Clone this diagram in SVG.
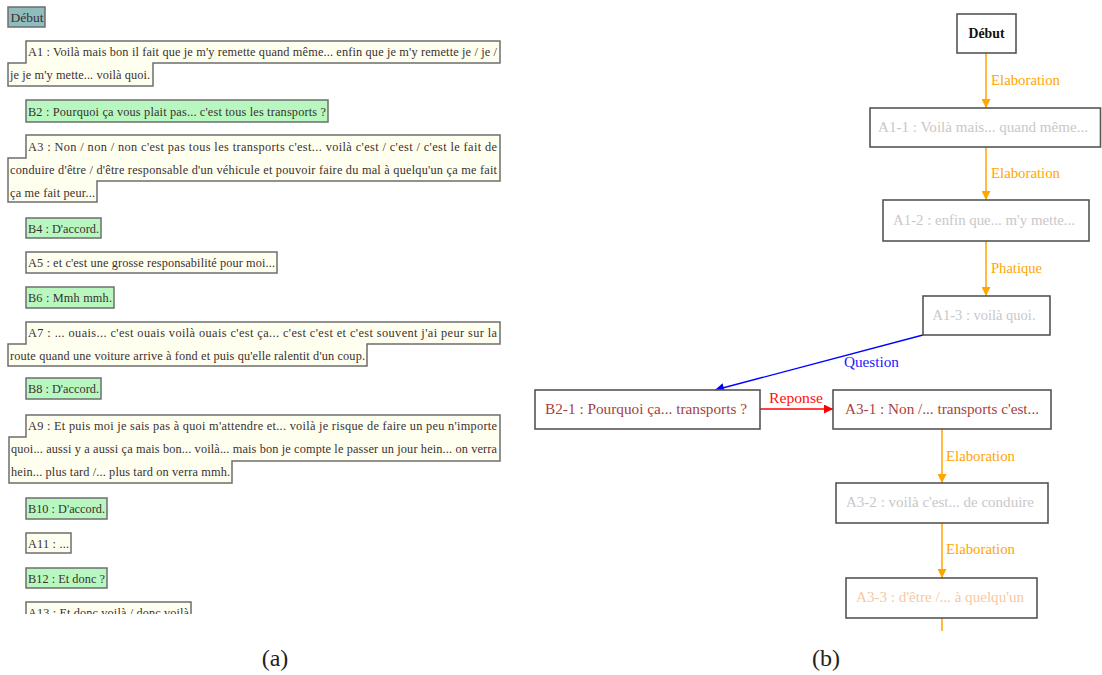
<svg xmlns="http://www.w3.org/2000/svg" width="1102" height="675" viewBox="0 0 1102 675">
<style>
  .lt { font-family: "Liberation Serif", "Times New Roman", serif; font-size: 12.3px; fill: #3a3030; }
  .boxA { fill: #fffff0; stroke: #6e6e6e; stroke-width: 1.5; }
  .boxB { fill: #b8f8c0; stroke: #6e6e6e; stroke-width: 1.5; }
  .boxD { fill: #8fbdbd; stroke: #6e6e6e; stroke-width: 1.5; }
  .rb { fill: #ffffff; stroke: #555555; stroke-width: 1.6; }
  .rt { font-family: "Liberation Serif", "Times New Roman", serif; font-size: 14px; text-anchor: middle; }
  .gray { fill: #c8c8c8; }
  .red { fill: #a84040; }
  .peach { fill: #f6c8a2; }
  .el { font-family: "Liberation Serif", "Times New Roman", serif; font-size: 14px; }
  .orange { stroke: #ffa500; stroke-width: 1.5; fill: none; }
  .cap { font-family: "Liberation Serif", "Times New Roman", serif; font-size: 24px; fill: #222; text-anchor: middle; }
</style>
<defs>
  <marker id="ao" viewBox="0 0 10 10" refX="10" refY="5" markerWidth="10" markerHeight="9" markerUnits="userSpaceOnUse" orient="auto"><path d="M0,0 L10,5 L0,10 z" fill="#ffa500"/></marker>
  <marker id="ab" viewBox="0 0 10 10" refX="10" refY="5" markerWidth="11" markerHeight="9" markerUnits="userSpaceOnUse" orient="auto"><path d="M0,0 L10,5 L0,10 z" fill="#0000ff"/></marker>
  <marker id="ar" viewBox="0 0 10 10" refX="10" refY="5" markerWidth="11" markerHeight="9" markerUnits="userSpaceOnUse" orient="auto"><path d="M0,0 L10,5 L0,10 z" fill="#ff0000"/></marker>
  <clipPath id="clipA13"><rect x="0" y="598" width="510" height="16"/></clipPath>
</defs>
<rect x="0" y="0" width="1102" height="675" fill="#ffffff"/>

<!-- Panel (a) -->
<g id="a-debut">
  <rect class="boxD" x="8" y="7" width="37" height="20"/>
  <text class="lt" x="10.5" y="22" textLength="33" lengthAdjust="spacingAndGlyphs">Début</text>
</g>
<g id="a-A1">
  <polygon class="boxA" points="26,41 500,41 500,63 153,63 153,86 8,86 8,63 26,63"/>
  <text class="lt" x="28" y="56" textLength="469" lengthAdjust="spacing">A1 : Voilà mais bon il fait que je m'y remette quand même... enfin que je m'y remette je / je /</text>
  <text class="lt" x="10" y="79" textLength="140" lengthAdjust="spacing">je je m'y mette... voilà quoi.</text>
</g>
<g id="a-B2">
  <rect class="boxB" x="26" y="100" width="302" height="22"/>
  <text class="lt" x="28" y="116" textLength="298" lengthAdjust="spacing">B2 : Pourquoi ça vous plait pas... c'est tous les transports ?</text>
</g>
<g id="a-A3">
  <polygon class="boxA" points="26,135 500,135 500,181 97,181 97,202 8,202 8,158 26,158"/>
  <text class="lt" x="28" y="151" textLength="469" lengthAdjust="spacing">A3 : Non / non / non c'est pas tous les transports c'est... voilà c'est / c'est / c'est le fait de</text>
  <text class="lt" x="10" y="174" textLength="487" lengthAdjust="spacing">conduire d'être / d'être responsable d'un véhicule et pouvoir faire du mal à quelqu'un ça me fait</text>
  <text class="lt" x="10" y="197" textLength="85" lengthAdjust="spacing">ça me fait peur...</text>
</g>
<g id="a-B4">
  <rect class="boxB" x="26" y="218" width="75" height="20"/>
  <text class="lt" x="28" y="233" textLength="71" lengthAdjust="spacing">B4 : D'accord.</text>
</g>
<g id="a-A5">
  <rect class="boxA" x="26" y="252" width="251" height="21"/>
  <text class="lt" x="28" y="267" textLength="247" lengthAdjust="spacing">A5 : et c'est une grosse responsabilité pour moi...</text>
</g>
<g id="a-B6">
  <rect class="boxB" x="26" y="287" width="88" height="21"/>
  <text class="lt" x="28" y="302" textLength="84" lengthAdjust="spacing">B6 : Mmh mmh.</text>
</g>
<g id="a-A7">
  <polygon class="boxA" points="26,322 500,322 500,344 367,344 367,366 8,366 8,344 26,344"/>
  <text class="lt" x="28" y="337" textLength="469" lengthAdjust="spacing">A7 : ... ouais... c'est ouais voilà ouais c'est ça... c'est  c'est et c'est souvent j'ai peur sur la</text>
  <text class="lt" x="10" y="360" textLength="355" lengthAdjust="spacing">route quand une voiture arrive à fond et puis qu'elle ralentit d'un coup.</text>
</g>
<g id="a-B8">
  <rect class="boxB" x="26" y="378" width="75" height="21"/>
  <text class="lt" x="28" y="393" textLength="71" lengthAdjust="spacing">B8 : D'accord.</text>
</g>
<g id="a-A9">
  <polygon class="boxA" points="26,415 500,415 500,461 232,461 232,483 9,483 9,437 26,437"/>
  <text class="lt" x="28" y="430" textLength="469" lengthAdjust="spacing">A9 : Et puis moi je sais pas à quoi m'attendre et... voilà je risque de faire un peu n'importe</text>
  <text class="lt" x="11" y="453" textLength="486" lengthAdjust="spacing">quoi... aussi y a aussi ça mais bon... voilà... mais bon je compte le passer un jour hein... on verra</text>
  <text class="lt" x="11" y="476" textLength="219" lengthAdjust="spacing">hein... plus tard /... plus tard on verra mmh.</text>
</g>
<g id="a-B10">
  <rect class="boxB" x="26" y="498" width="81" height="21"/>
  <text class="lt" x="28" y="513" textLength="77" lengthAdjust="spacing">B10 : D'accord.</text>
</g>
<g id="a-A11">
  <rect class="boxA" x="26" y="533" width="45" height="20"/>
  <text class="lt" x="28" y="548" textLength="41" lengthAdjust="spacing">A11 : ...</text>
</g>
<g id="a-B12">
  <rect class="boxB" x="26" y="568" width="81" height="20"/>
  <text class="lt" x="28" y="583" textLength="77" lengthAdjust="spacing">B12 : Et donc ?</text>
</g>
<g id="a-A13">
  <rect x="26" y="602" width="165" height="12" fill="#fffff0"/>
  <polyline points="26,614 26,602 191,602 191,614" fill="none" stroke="#6e6e6e" stroke-width="1.5"/>
  <text class="lt" x="28" y="617" textLength="161" lengthAdjust="spacing" clip-path="url(#clipA13)">A13 : Et donc voilà / donc voilà</text>
</g>
<text class="cap" x="275" y="666">(a)</text>

<!-- Panel (b) connectors -->
<g id="connectors">
  <line class="orange" x1="986" y1="53" x2="986" y2="108" marker-end="url(#ao)"/>
  <line class="orange" x1="986" y1="147" x2="986" y2="200" marker-end="url(#ao)"/>
  <line class="orange" x1="986" y1="241" x2="986" y2="296" marker-end="url(#ao)"/>
  <line x1="923" y1="335" x2="715" y2="390" stroke="#0000ff" stroke-width="1.3" marker-end="url(#ab)"/>
  <line x1="760" y1="409" x2="833" y2="409" stroke="#ff0000" stroke-width="1.3" marker-end="url(#ar)"/>
  <line class="orange" x1="942" y1="429" x2="942" y2="483" marker-end="url(#ao)"/>
  <line class="orange" x1="942" y1="523" x2="942" y2="578" marker-end="url(#ao)"/>
  <line class="orange" x1="942" y1="618" x2="942" y2="631"/>
  <text class="el" x="991" y="85" fill="#ffa500" textLength="69" lengthAdjust="spacingAndGlyphs">Elaboration</text>
  <text class="el" x="991" y="178" fill="#ffa500" textLength="69" lengthAdjust="spacingAndGlyphs">Elaboration</text>
  <text class="el" x="991" y="273" fill="#ffa500" textLength="51" lengthAdjust="spacingAndGlyphs">Phatique</text>
  <text class="el" x="844" y="367" fill="#2020ff" textLength="55" lengthAdjust="spacingAndGlyphs">Question</text>
  <text class="el" x="769" y="403" fill="#ff1010" textLength="54" lengthAdjust="spacingAndGlyphs">Reponse</text>
  <text class="el" x="946" y="461" fill="#ffa500" textLength="69" lengthAdjust="spacingAndGlyphs">Elaboration</text>
  <text class="el" x="946" y="554" fill="#ffa500" textLength="69" lengthAdjust="spacingAndGlyphs">Elaboration</text>
</g>

<!-- Panel (b) nodes -->
<g id="b-debut">
  <rect class="rb" x="957" y="14" width="59" height="39"/>
  <text class="rt" x="986.5" y="38" font-weight="bold" fill="#111" textLength="36" lengthAdjust="spacingAndGlyphs">Début</text>
</g>
<g id="b-A1-1">
  <rect class="rb" x="870" y="108" width="230.5" height="39"/>
  <text class="rt gray" x="983" y="132" textLength="210" lengthAdjust="spacingAndGlyphs">A1-1 : Voilà mais... quand même...</text>
</g>
<g id="b-A1-2">
  <rect class="rb" x="883" y="200" width="206" height="41"/>
  <text class="rt gray" x="984" y="225" textLength="182" lengthAdjust="spacingAndGlyphs">A1-2 : enfin que... m'y mette...</text>
</g>
<g id="b-A1-3">
  <rect class="rb" x="923" y="296" width="127" height="39"/>
  <text class="rt gray" x="984" y="320" textLength="103" lengthAdjust="spacingAndGlyphs">A1-3 : voilà quoi.</text>
</g>
<g id="b-B2-1">
  <rect class="rb" x="535" y="390" width="225" height="39"/>
  <text class="rt red" x="646" y="414" textLength="202" lengthAdjust="spacingAndGlyphs">B2-1 : Pourquoi ça... transports ?</text>
</g>
<g id="b-A3-1">
  <rect class="rb" x="833" y="390" width="218" height="39"/>
  <text class="rt red" x="942" y="414" textLength="194" lengthAdjust="spacingAndGlyphs">A3-1 : Non /... transports c'est...</text>
</g>
<g id="b-A3-2">
  <rect class="rb" x="836" y="483" width="212" height="40"/>
  <text class="rt gray" x="940" y="507" textLength="188" lengthAdjust="spacingAndGlyphs">A3-2 : voilà c'est... de conduire</text>
</g>
<g id="b-A3-3">
  <rect class="rb" x="846" y="578" width="191" height="40"/>
  <text class="rt peach" x="940" y="602" textLength="168" lengthAdjust="spacingAndGlyphs">A3-3 : d'être /... à quelqu'un</text>
</g>
<text class="cap" x="826" y="666">(b)</text>
</svg>
